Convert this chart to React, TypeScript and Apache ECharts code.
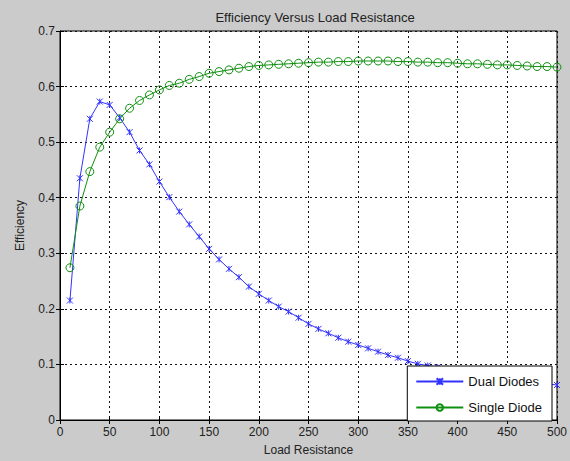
import React, { useEffect, useRef } from "react";
import * as echarts from "echarts";

const loadResistance = [
  10, 20, 30, 40, 50, 60, 70, 80, 90, 100,
  110, 120, 130, 140, 150, 160, 170, 180, 190, 200,
  210, 220, 230, 240, 250, 260, 270, 280, 290, 300,
  310, 320, 330, 340, 350, 360, 370, 380, 390, 400,
  410, 420, 430, 440, 450, 460, 470, 480, 490, 500,
];

const dualDiodes = [
  0.215, 0.435, 0.542, 0.573, 0.567, 0.544, 0.518, 0.485, 0.46, 0.429,
  0.401, 0.375, 0.352, 0.33, 0.308, 0.289, 0.272, 0.257, 0.24, 0.227,
  0.215, 0.204, 0.195, 0.184, 0.173, 0.164, 0.156, 0.148, 0.141, 0.135,
  0.129, 0.123, 0.117, 0.112, 0.106, 0.101, 0.098, 0.095, 0.092, 0.089,
  0.086, 0.083, 0.08, 0.077, 0.075, 0.072, 0.07, 0.068, 0.065, 0.063,
];

const singleDiode = [
  0.274, 0.385, 0.447, 0.491, 0.518, 0.542, 0.561, 0.575, 0.585, 0.594,
  0.602, 0.606, 0.613, 0.618, 0.624, 0.627, 0.63, 0.633, 0.636, 0.638,
  0.639, 0.64, 0.641, 0.642, 0.643, 0.644, 0.644, 0.645, 0.645, 0.646,
  0.646, 0.646, 0.646, 0.645, 0.645, 0.644, 0.644, 0.643, 0.643, 0.642,
  0.641, 0.641, 0.64, 0.639, 0.639, 0.638, 0.637, 0.636, 0.636, 0.635,
];

const FONT = "Liberation Sans, Arial, sans-serif";

export default function App() {
  const ref = useRef<HTMLDivElement>(null);
  useEffect(() => {
    if (!ref.current) return;
    const chart = echarts.init(ref.current, null, { renderer: "svg" });
    const pair = (ys: number[]) => loadResistance.map((x, i) => [x, ys[i]]);
    const splitLine = { show: true, lineStyle: { color: "#111", type: [2, 3] as any, width: 1 } };
    const tick = { show: true, inside: true, length: 4, lineStyle: { color: "#000" } };
    chart.setOption({
      animation: false,
      backgroundColor: "#cbcbcb",
      title: {
        text: "Efficiency Versus Load Resistance",
        left: 310,
        textAlign: "center",
        top: 6,
        textStyle: { fontFamily: FONT, fontSize: 13, fontWeight: "normal", color: "#222" },
      },
      grid: {
        left: 60,
        right: 9,
        top: 31,
        bottom: 40,
        show: true,
        backgroundColor: "#fff",
        borderColor: "#000",
        borderWidth: 1,
      },
      legend: {
        orient: "vertical",
        right: 18,
        top: 366,
        backgroundColor: "#fff",
        borderColor: "#000",
        borderWidth: 1,
        padding: [9, 10, 7, 8],
        itemGap: 13,
        itemWidth: 47,
        itemHeight: 8,
        textStyle: { fontFamily: FONT, fontSize: 13, color: "#111" },
        data: ["Dual Diodes", "Single Diode"],
      },
      xAxis: [
        {
          type: "value",
          min: 0,
          max: 500,
          interval: 50,
          name: "Load Resistance",
          nameLocation: "middle",
          nameGap: 24,
          nameTextStyle: { fontFamily: FONT, fontSize: 12, color: "#222" },
          axisLine: { show: true, lineStyle: { color: "#000" } },
          axisTick: tick,
          axisLabel: { fontFamily: FONT, fontSize: 12, color: "#222", margin: 6 },
          splitLine,
        },
        {
          type: "value",
          position: "top",
          min: 0,
          max: 500,
          interval: 50,
          axisLine: { show: false },
          axisTick: tick,
          axisLabel: { show: false },
          splitLine: { show: false },
        },
      ],
      yAxis: [
        {
          type: "value",
          min: 0,
          max: 0.7,
          interval: 0.1,
          name: "Efficiency",
          nameLocation: "middle",
          nameGap: 34,
          nameTextStyle: { fontFamily: FONT, fontSize: 12, color: "#222" },
          axisLine: { show: true, lineStyle: { color: "#000" } },
          axisTick: tick,
          axisLabel: { fontFamily: FONT, fontSize: 12, color: "#222", margin: 5 },
          splitLine,
        },
        {
          type: "value",
          position: "right",
          min: 0,
          max: 0.7,
          interval: 0.1,
          axisLine: { show: false },
          axisTick: tick,
          axisLabel: { show: false },
          splitLine: { show: false },
        },
      ],
      series: [
        {
          name: "Dual Diodes",
          type: "line",
          data: pair(dualDiodes),
          symbol: "path://M0,0L10,10M10,0L0,10M5,0L5,10",
          symbolSize: 6,
          lineStyle: { color: "#3333ff", width: 1 },
          itemStyle: { color: "transparent", borderColor: "#3333ff", borderWidth: 1 },
          z: 3,
        },
        {
          name: "Single Diode",
          type: "line",
          data: pair(singleDiode),
          symbol: "circle",
          symbolSize: 8,
          lineStyle: { color: "#109010", width: 1 },
          itemStyle: { color: "transparent", borderColor: "#109010", borderWidth: 1 },
          z: 3,
        },
      ],
    });
    return () => chart.dispose();
  }, []);
  return (
    <div
      ref={ref}
      style={{ position: "absolute", left: 0, top: 0, width: 570, height: 461 }}
    />
  );
}
